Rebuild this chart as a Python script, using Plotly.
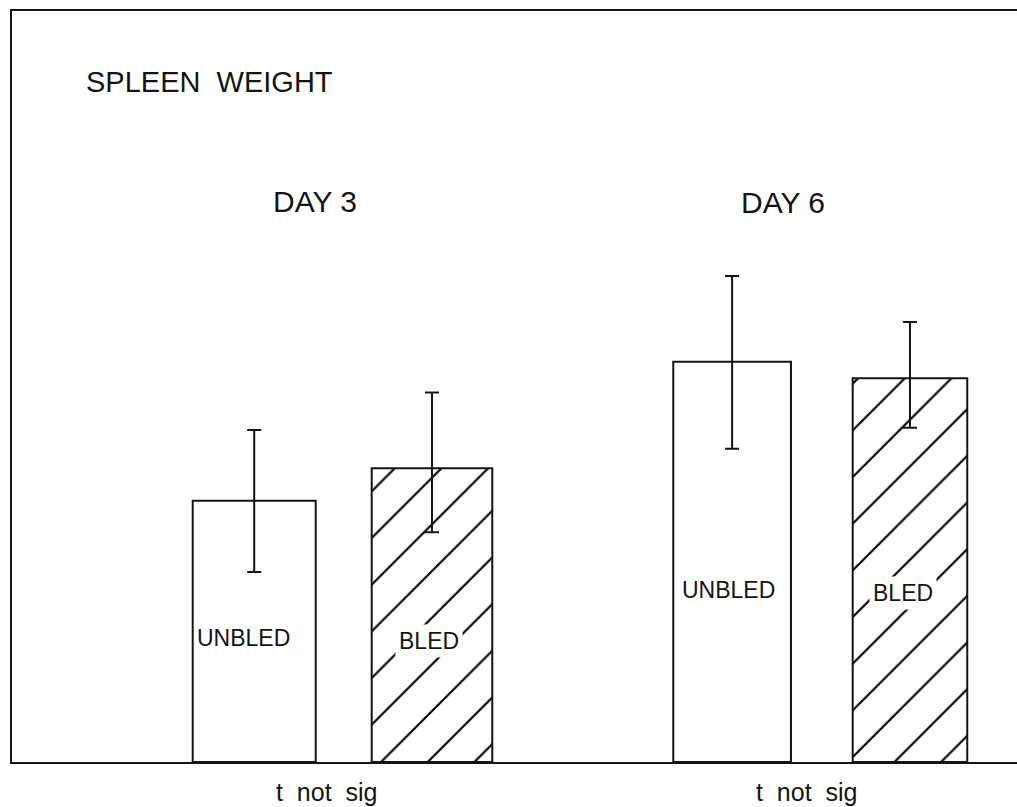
import plotly.graph_objects as go

# Spleen weight, unbled vs bled groups, on day 3 and day 6 (arbitrary units)
days = ["DAY 3", "DAY 6"]
unbled_mean = [34.8, 53.3]
unbled_err_up = [9.4, 11.4]
unbled_err_down = [9.5, 11.6]
bled_mean = [39.1, 51.1]
bled_err_up = [10.1, 7.5]
bled_err_down = [8.5, 6.6]
group_labels = ["UNBLED", "BLED"]
footnotes = ["t  not  sig", "t  not  sig"]

W, H = 1017, 807
L, R, T, B = 12, 0, 11, 45
INK = "#141414"
FONT = "Liberation Sans"


def paper(xp, yp):
    """Convert page pixel coordinates to paper coordinates."""
    return (xp - L) / (W - L - R), (H - B - yp) / (H - T - B)


fig = go.Figure()

fig.add_trace(go.Bar(
    x=days, y=unbled_mean, name=group_labels[0],
    offset=[-0.3135, -0.3077], width=[0.2574, 0.2463],
    marker=dict(color="white", line=dict(color=INK, width=2)),
    error_y=dict(type="data", symmetric=False, array=unbled_err_up,
                 arrayminus=unbled_err_down, color=INK, thickness=2, width=7),
))

fig.add_trace(go.Bar(
    x=days, y=bled_mean, name=group_labels[1],
    offset=[0.0611, 0.0678], width=[0.2524, 0.2398],
    marker=dict(color="white", line=dict(color=INK, width=2),
                pattern=dict(shape="/", fgcolor="#000000", fgopacity=1,
                             bgcolor="white", size=33, solidity=0.065)),
    error_y=dict(type="data", symmetric=False, array=bled_err_up,
                 arrayminus=bled_err_down, color=INK, thickness=2, width=7),
))

annotations = []


def label(text, xp, yp, size, anchor="center", bg=None):
    x, y = paper(xp, yp)
    annotations.append(dict(
        text=text, x=x, y=y, xref="paper", yref="paper",
        xanchor=anchor, yanchor="middle", showarrow=False,
        font=dict(family=FONT, size=size, color=INK),
        bgcolor=bg, borderpad=3,
    ))


label("SPLEEN  WEIGHT", 82, 82, 29, anchor="left")
label(days[0], 315, 202, 30)
label(days[1], 783, 203, 30)
label(group_labels[0], 243, 638, 23)
label(group_labels[1], 429, 641, 23, bg="white")
label(group_labels[0], 728, 590, 23)
label(group_labels[1], 903, 593, 23, bg="white")
label(footnotes[0], 326, 792, 25)
label(footnotes[1], 806, 792, 25)

fig.update_layout(
    width=W, height=H,
    margin=dict(l=L, r=R, t=T, b=B, pad=0),
    paper_bgcolor="white", plot_bgcolor="white",
    showlegend=False,
    annotations=annotations,
    xaxis=dict(range=[-0.6917, 1.4117], showticklabels=False, ticks="",
               showgrid=False, zeroline=False,
               showline=True, linecolor=INK, linewidth=2, mirror=True),
    yaxis=dict(range=[0, 100], showticklabels=False, ticks="",
               showgrid=False, zeroline=False,
               showline=True, linecolor=INK, linewidth=2),
)

fig.write_html("out.html")
